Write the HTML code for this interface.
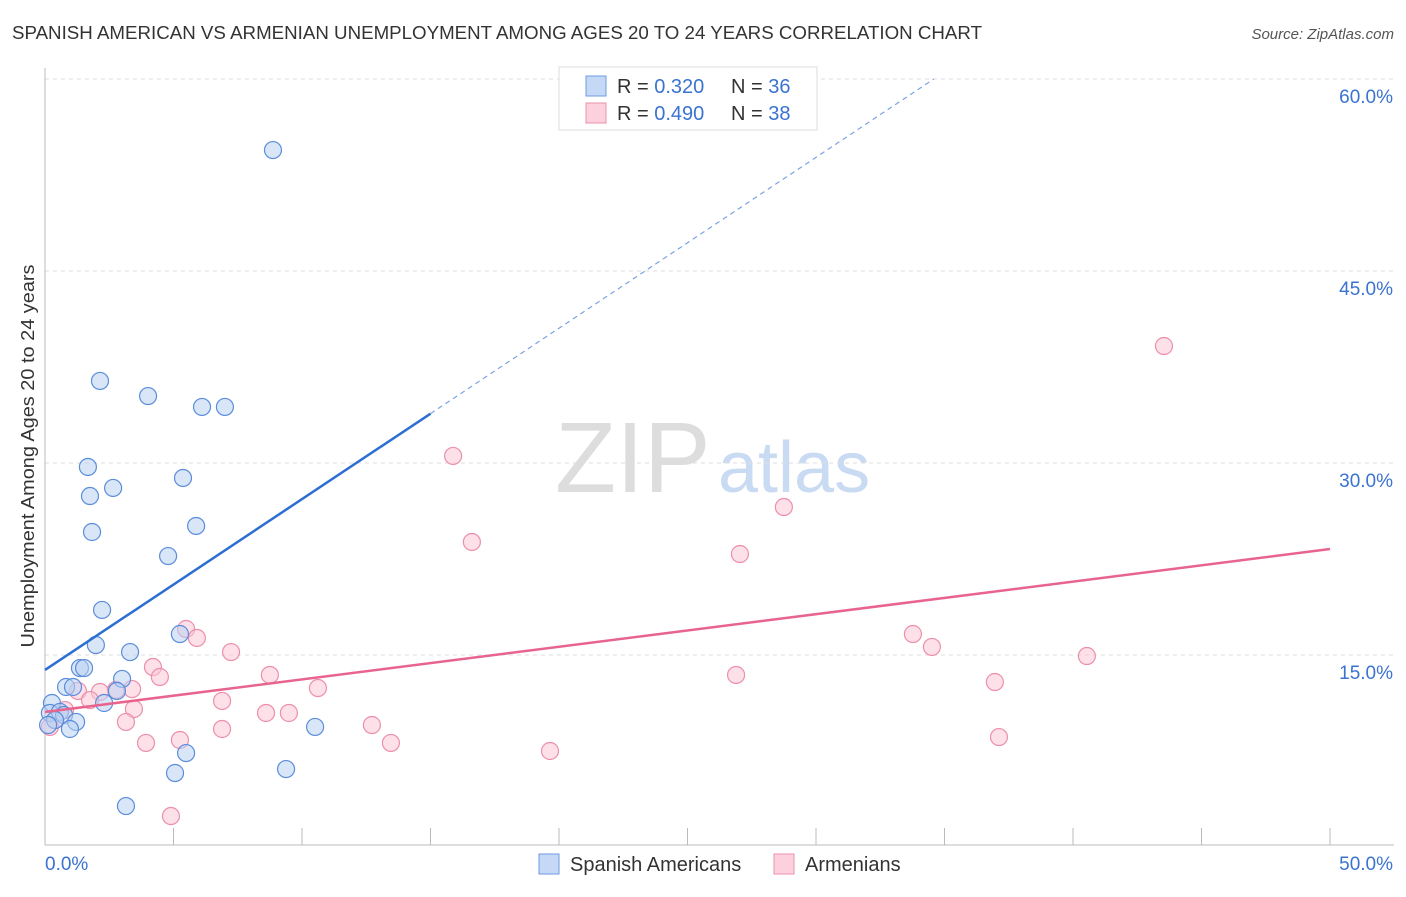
<!DOCTYPE html>
<html><head><meta charset="utf-8"><style>
body{margin:0;background:#fff;font-family:"Liberation Sans",sans-serif;}
svg text{font-family:"Liberation Sans",sans-serif;}
</style></head><body>
<svg id="chart" width="1406" height="892">
<text x="12" y="39" font-size="18" fill="#333" textLength="970" lengthAdjust="spacingAndGlyphs">SPANISH AMERICAN VS ARMENIAN UNEMPLOYMENT AMONG AGES 20 TO 24 YEARS CORRELATION CHART</text>
<text x="1394" y="39" font-size="15" fill="#555" font-style="italic" text-anchor="end">Source: ZipAtlas.com</text>
<g>
<text x="555" y="492" font-size="100" fill="#ddd" font-family="Liberation Serif">ZIP</text>
<text x="718" y="492" font-size="72" fill="#c9daf3">atlas</text>
</g>
<g id="grid"></g><g id="axes"></g><g id="marks"></g>
<text transform="translate(34,456) rotate(-90)" font-size="18" fill="#333" text-anchor="middle" textLength="383" lengthAdjust="spacingAndGlyphs">Unemployment Among Ages 20 to 24 years</text>
<g>
<rect x="559" y="67" width="258" height="63" fill="#fff" stroke="#ddd"/>
<rect x="586" y="76" width="20" height="20" fill="#c5d9f6" stroke="#6d9be0"/>
<rect x="586" y="103" width="20" height="20" fill="#fcd0dc" stroke="#ec8fab"/>
<text x="617" y="93" font-size="20" fill="#333">R = <tspan fill="#3a73d0">0.320</tspan></text>
<text x="731" y="93" font-size="20" fill="#333">N = <tspan fill="#3a73d0">36</tspan></text>
<text x="617" y="120" font-size="20" fill="#333">R = <tspan fill="#3a73d0">0.490</tspan></text>
<text x="731" y="120" font-size="20" fill="#333">N = <tspan fill="#3a73d0">38</tspan></text>
</g>
<g>
<rect x="539" y="854" width="20" height="20" fill="#c5d9f6" stroke="#6d9be0"/>
<text x="570" y="871" font-size="20" fill="#333">Spanish Americans</text>
<rect x="774" y="854" width="20" height="20" fill="#fcd0dc" stroke="#ec8fab"/>
<text x="805" y="871" font-size="20" fill="#333">Armenians</text>
</g>
</svg>
<script>
const yTicks=[15,30,45,60];
const yTickLabels=["15.0%","30.0%","45.0%","60.0%"];
const xTicks=[0,5,10,15,20,25,30,35,40,45,50];
const blueX=[8.87,2.14,4.01,6.11,7.00,1.67,5.37,1.75,2.65,1.83,5.88,4.79,2.22,1.98,5.25,3.31,1.36,1.52,0.82,1.09,3.00,2.80,2.30,0.27,0.19,0.58,0.74,0.39,1.21,0.97,0.12,3.15,5.06,5.49,9.38,10.51];
const blueY=[54.45,36.41,35.23,34.38,34.38,29.69,28.83,27.42,28.05,24.61,25.08,22.73,18.52,15.78,16.64,15.23,13.98,13.98,12.50,12.50,13.13,12.19,11.25,11.25,10.47,10.55,10.31,9.92,9.77,9.22,9.53,3.20,5.78,7.34,6.09,9.38];
const pinkX=[43.54,15.88,16.61,28.75,27.04,5.49,5.91,33.77,34.51,7.24,4.20,4.47,40.54,8.75,36.96,26.89,10.62,3.39,2.76,2.14,1.28,6.89,3.46,8.60,9.49,3.15,6.89,12.72,13.46,3.93,5.25,19.65,37.12,4.90,0.39,0.19,0.78,1.75];
const pinkY=[39.14,30.55,23.83,26.56,22.89,17.03,16.33,16.64,15.63,15.23,14.06,13.28,14.92,13.44,12.89,13.44,12.42,12.34,12.27,12.11,12.19,11.41,10.78,10.47,10.47,9.77,9.22,9.53,8.13,8.13,8.36,7.50,8.59,2.42,9.92,9.38,10.70,11.48];
const blueTrend=[13.83,1.335];
const blueSolidEnd=15;
const pinkTrend=[10.55,0.2546];
const NS="http://www.w3.org/2000/svg";
const X=v=>45+v*25.7, Y=v=>847-v*12.8;
function mk(tag,attrs,parent){const e=document.createElementNS(NS,tag);for(const k in attrs)e.setAttribute(k,attrs[k]);document.getElementById(parent).appendChild(e);return e;}
yTicks.forEach((t,i)=>{
 const l=mk('line',{x1:45,x2:1394,y1:Y(t),y2:Y(t),stroke:'#ddd','stroke-dasharray':'4,4'},'grid');
 
 
 const tx=mk('text',{x:1393,y:Y(t)+24,'font-size':19,fill:'#3a73d0','text-anchor':'end'},'grid');
 tx.textContent=yTickLabels[i];
 
 
});
const ax=mk('line',{x1:45,x2:45,y1:68,y2:845,stroke:'#bbb'},'axes');


const bx=mk('line',{x1:45,x2:1394,y1:845,y2:845,stroke:'#bbb'},'axes');


xTicks.forEach(t=>{
 const l=mk('line',{x1:X(t),x2:X(t),y1:828,y2:845,stroke:'#bbb'},'axes');
 
 
});
const x0=mk('text',{x:45,y:870,'font-size':19,fill:'#3a73d0'},'axes');x0.textContent='0.0%';


const x1=mk('text',{x:1393,y:870,'font-size':19,fill:'#3a73d0','text-anchor':'end'},'axes');x1.textContent='50.0%';


function dots(xs,ys,fill,stroke,name){xs.forEach((x,i)=>{
 const c=mk('circle',{cx:X(x),cy:Y(ys[i]),r:8.5,fill:fill,stroke:stroke,'stroke-width':1.2,'fill-opacity':0.55},'marks');
 
 
});}
dots(pinkX,pinkY,'#fbc6d5','#ec8fab','armenian-point');
dots(blueX,blueY,'#b9d1f3','#5b8ddb','spanish-american-point');
const xTop=(60-blueTrend[0])/blueTrend[1];
const bs=mk('line',{x1:X(0),y1:Y(blueTrend[0]),x2:X(blueSolidEnd),y2:Y(blueTrend[0]+blueTrend[1]*blueSolidEnd),stroke:'#2c6fd1','stroke-width':2.5},'marks');


const bd=mk('line',{x1:X(blueSolidEnd),y1:Y(blueTrend[0]+blueTrend[1]*blueSolidEnd),x2:X(xTop),y2:Y(60),stroke:'#7aa3e0','stroke-width':1.2,'stroke-dasharray':'5,4'},'marks');


const pl=mk('line',{x1:X(0),y1:Y(pinkTrend[0]),x2:X(50),y2:Y(pinkTrend[0]+pinkTrend[1]*50),stroke:'#e8648e','stroke-width':2.5},'marks');


</script>
</body></html>
